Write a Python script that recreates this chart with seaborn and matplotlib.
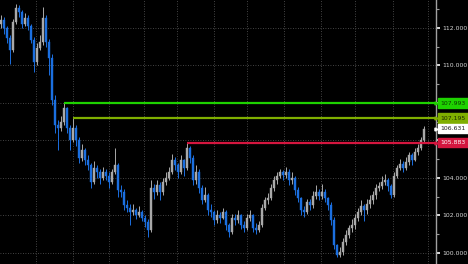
import numpy as np
import matplotlib
matplotlib.use("Agg")
import matplotlib.pyplot as plt
import seaborn as sns

# ---- data ----
first_open = 112.2
close = [112.43, 112.0, 111.47, 110.83, 112.32, 113.07, 112.85, 112.21, 112.53, 112.11,
         111.36, 110.19, 110.93, 111.25, 112.53, 111.25, 110.40, 108.16, 106.83, 106.67,
         106.99, 107.73, 106.67, 106.03, 106.67, 106.03, 105.07, 105.49, 104.96, 104.69,
         103.79, 104.53, 104.32, 104.0, 104.32, 104.11, 103.79, 104.32, 104.69, 103.36,
         103.25, 102.56, 102.4, 102.19, 102.29, 102.03, 102.19, 101.87, 101.65, 101.23,
         103.47, 103.25, 103.63, 103.25, 103.79, 104.0, 104.32, 104.96, 104.69, 104.32,
         104.96, 104.53, 105.6, 105.07, 103.89, 104.32, 103.47, 102.83, 103.09, 102.29,
         102.19, 101.76, 102.03, 101.87, 102.19, 101.49, 101.12, 101.87, 101.76, 102.03,
         101.49, 101.33, 101.87, 102.03, 101.33, 101.23, 101.49, 102.4, 102.83, 102.93,
         103.47, 103.89, 104.11, 104.32, 104.16, 104.32, 103.89, 104.0, 103.36, 102.93,
         102.29, 102.19, 102.72, 102.56, 103.04, 103.25, 103.04, 103.25, 102.93, 102.56,
         101.76, 100.43, 99.89, 100.05, 100.59, 100.96, 101.33, 101.49, 101.87, 102.19,
         102.51, 102.29, 102.61, 102.83, 103.09, 103.47, 103.57, 103.79, 103.89, 103.57,
         103.09, 104.11, 104.53, 104.75, 104.53, 104.85, 105.23, 104.96, 105.39, 105.6,
         106.03, 106.631]
high = [112.7, 112.6, 112.1, 111.6, 112.5, 113.3, 113.25, 112.95, 112.8, 112.7,
        112.2, 111.5, 111.2, 111.6, 113.1, 112.7, 111.4, 110.6, 108.4, 107.1,
        107.3, 107.993, 107.8, 106.8, 107.195, 106.8, 106.2, 105.8, 105.6, 105.2,
        104.8, 104.9, 104.7, 104.5, 104.6, 104.5, 104.3, 104.5, 105.6, 104.8,
        103.6, 103.4, 102.8, 102.6, 102.6, 102.4, 102.5, 102.3, 102.0, 101.8,
        103.9, 103.7, 103.9, 103.8, 104.0, 104.3, 104.6, 105.3, 105.1, 104.8,
        105.2, 105.0, 105.883, 105.7, 105.2, 104.7, 104.5, 103.6, 103.5, 103.2,
        102.6, 102.3, 102.3, 102.2, 102.4, 102.3, 101.6, 102.1, 102.1, 102.3,
        102.1, 101.7, 102.1, 102.3, 102.1, 101.6, 101.7, 102.6, 103.0, 103.2,
        103.7, 104.1, 104.3, 104.5, 104.45, 104.59, 104.5, 104.3, 104.1, 103.5,
        103.0, 102.5, 102.9, 102.9, 103.3, 103.6, 103.4, 103.7, 103.4, 103.0,
        102.7, 101.9, 100.5, 100.3, 100.8, 101.2, 101.5, 101.8, 102.1, 102.4,
        102.8, 102.6, 102.9, 103.1, 103.3, 103.7, 103.8, 104.1, 104.2, 104.0,
        103.7, 104.3, 104.7, 105.0, 104.9, 105.1, 105.4, 105.35, 105.6, 105.8,
        106.2, 106.75]
low = [112.0, 111.7, 111.2, 110.1, 110.7, 112.2, 112.6, 112.0, 112.1, 111.9,
       111.2, 109.65, 110.0, 110.8, 111.1, 111.0, 109.5, 107.9, 106.4, 105.5,
       106.5, 106.8, 106.4, 105.5, 105.9, 105.7, 104.8, 104.9, 104.7, 104.4,
       103.45, 103.7, 104.0, 103.7, 103.9, 103.9, 103.45, 103.7, 104.2, 103.0,
       103.0, 102.3, 102.2, 101.5, 102.0, 101.8, 101.9, 101.7, 101.4, 100.85,
       101.1, 102.9, 103.1, 102.8, 103.1, 103.6, 103.9, 104.2, 104.4, 104.0,
       104.2, 104.1, 104.4, 104.8, 103.6, 103.7, 103.2, 102.6, 102.7, 102.0,
       101.9, 101.5, 101.6, 101.6, 101.8, 101.2, 100.85, 101.0, 101.5, 101.6,
       101.3, 101.1, 101.2, 101.7, 101.1, 101.0, 101.1, 101.4, 102.3, 102.6,
       102.8, 103.3, 103.7, 104.0, 103.9, 104.0, 103.6, 103.7, 103.1, 102.7,
       102.0, 101.9, 102.1, 102.3, 102.4, 102.9, 102.8, 102.9, 102.7, 102.3,
       101.5, 100.2, 99.8, 99.8, 99.9, 100.4, 100.8, 101.1, 101.3, 101.7,
       102.0, 101.7, 102.1, 102.4, 102.6, 102.9, 103.3, 103.4, 103.6, 103.3,
       102.95, 103.0, 104.0, 104.4, 104.3, 104.4, 104.7, 104.7, 104.9, 105.2,
       105.5, 105.9]

month_starts = [11.67, 24.0, 36.0, 47.67, 58.67, 71.0, 82.0, 94.33, 106.67, 118.0, 130.67, 142.33]
y_ticks = [100, 102, 104, 106, 108, 110, 112]
y_tick_labels = ["100.000", "102.000", "104.000", "", "", "110.000", "112.000"]  # 106/108 hidden under tags

levels = [107.993, 107.195, 105.883]
level_start = [21, 24, 62]
level_colors = ["#1ed200", "#7fae00", "#d4163f"]
level_text_colors = ["#0b3a00", "#1c2a00", "#ffffff"]
last_price = 106.631

# ---- styling ----
sns.set_theme(style="dark", rc={"axes.facecolor": "black", "figure.facecolor": "black"})
plt.rcParams["font.family"] = ["DejaVu Sans"]

fig = plt.figure(figsize=(4.68, 2.64), dpi=100)
ax = fig.add_axes([0, 0, 436 / 468, 1])
ax.set_facecolor("black")

opens = [first_open] + close[:-1]
n = len(close)
xs = np.arange(n)
o = np.array(opens)
c = np.array(close)
h = np.array(high)
l = np.array(low)
up = c >= o
up_col = "#a9a9a9"
dn_col = "#1b6fe0"
cols = np.where(up, up_col, dn_col)

ax.vlines(xs, l, h, colors=cols, linewidth=0.7, zorder=3)
bottoms = np.minimum(o, c)
heights = np.maximum(np.abs(c - o), 0.04)
ax.bar(xs, heights, bottom=bottoms, width=0.62, color=cols, edgecolor=cols, linewidth=0.3, zorder=4)

# level lines
for lv, st, col in zip(levels, level_start, level_colors):
    ax.hlines(lv, st, 200, colors=col, linewidth=1.6, zorder=5)

ax.set_xlim(-0.3, 436 / 3 - 0.3)
ax.set_ylim(99.413, 113.493)

# grid
ax.set_xticks(month_starts)
ax.set_xticklabels([])
ax.set_yticks(y_ticks)
ax.set_yticklabels(y_tick_labels)
ax.set_yticks([101, 103, 105, 107, 109, 111, 113], minor=True)
ax.grid(True, which="major", color="#5a5a5a", linestyle=(0, (1, 2)), linewidth=0.6)
ax.tick_params(axis="x", length=0)
ax.yaxis.tick_right()
ax.tick_params(axis="y", which="major", direction="out", length=3, width=1.2,
               color="white", pad=1.5, labelsize=4.4, labelcolor="#d8d8d8")
ax.tick_params(axis="y", which="minor", direction="out", length=2, width=0.8, color="#9a9a9a")
for s in ["left", "top", "bottom"]:
    ax.spines[s].set_visible(False)
ax.spines["right"].set_color("#a0a0a0")
ax.spines["right"].set_linewidth(1.0)

# right-side price tags
def tag(val, face, txtcol):
    yf = ax.transLimits.transform((0, val))[1]
    ax.annotate(f"{val:.3f}", xy=(1.0, yf), xycoords="axes fraction",
                xytext=(3.0, 0), textcoords="offset points", ha="left", va="center",
                fontsize=4.4, color=txtcol, annotation_clip=False, zorder=10,
                bbox=dict(boxstyle="square,pad=0.35", facecolor=face, edgecolor=face))
    ax.plot([1.0], [yf], marker=">", markersize=2.2, color=face, transform=ax.transAxes,
            clip_on=False, zorder=11)

for lv, col, tc in zip(levels, level_colors, level_text_colors):
    tag(lv, col, tc)
tag(last_price, "#ffffff", "#202020")

fig.savefig("out.png", dpi=100, facecolor="black")
